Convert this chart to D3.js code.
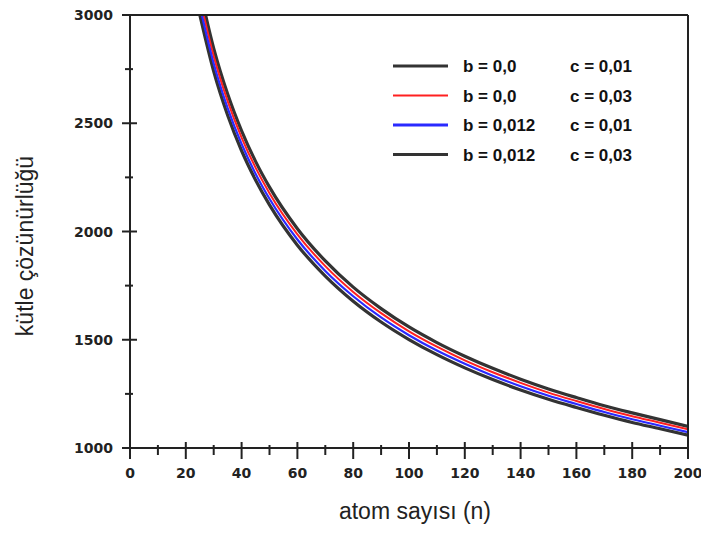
<!DOCTYPE html>
<html>
<head>
<meta charset="utf-8">
<script src="https://cdn.jsdelivr.net/npm/d3@7"></script>
<style>
  body { margin: 0; background: #fff; }
  svg { display: block; }
</style>
</head>
<body>
<div id="chart"></div>
<script>
// values
const atomCounts = [25, 30, 35, 40, 45, 50, 60, 70, 80, 90, 100, 110, 120, 130, 140, 150, 160, 170, 180, 190, 200];
const b0c001 = [3118, 2846, 2635, 2465, 2324, 2205, 2013, 1864, 1743, 1644, 1559, 1487, 1424, 1368, 1318, 1273, 1233, 1195, 1162, 1131, 1100];
const b0c003 = [3078, 2810, 2602, 2434, 2295, 2177, 1987, 1840, 1721, 1623, 1539, 1468, 1405, 1350, 1301, 1256, 1217, 1180, 1147, 1117, 1086];
const b012c001 = [3042, 2776, 2570, 2404, 2267, 2151, 1963, 1818, 1701, 1603, 1521, 1450, 1389, 1334, 1285, 1241, 1203, 1166, 1133, 1103, 1073];
const b012c003 = [3002, 2740, 2537, 2373, 2238, 2123, 1937, 1794, 1678, 1582, 1501, 1431, 1370, 1316, 1268, 1225, 1187, 1151, 1118, 1089, 1059];

const legendB = ["b = 0,0", "b = 0,0", "b = 0,012", "b = 0,012"];
const legendC = ["c = 0,01", "c = 0,03", "c = 0,01", "c = 0,03"];
const xTicks = [0, 20, 40, 60, 80, 100, 120, 140, 160, 180, 200];
const yTicks = [1000, 1500, 2000, 2500, 3000];

const series = [
    { values: b0c001, color: "#333333", width: 3.2 },
    { values: b012c003, color: "#333333", width: 3.2 },
    { values: b0c003, color: "#ff2020", width: 2 },
    { values: b012c001, color: "#2a2aff", width: 2.2 }
];
const legendRows = [
    { color: "#333333", width: 3 },
    { color: "#ff2020", width: 2 },
    { color: "#2a2aff", width: 3 },
    { color: "#333333", width: 3 }
];

const W = 701, H = 534;
const svg = d3.select("#chart").append("svg")
    .attr("width", W)
    .attr("height", H);

const x = d3.scaleLinear().domain([0, 200]).range([130, 688]);
const y = d3.scaleLinear().domain([1000, 3000]).range([448, 15]);

svg.append("clipPath").attr("id", "plot")
    .append("rect")
    .attr("x", x(0)).attr("y", y(3000))
    .attr("width", x(200) - x(0)).attr("height", y(1000) - y(3000));

// curves
const line = d3.line()
    .x((d, i) => x(atomCounts[i]))
    .y(d => y(d))
    .curve(d3.curveMonotoneX);

svg.append("g").attr("clip-path", "url(#plot)")
    .selectAll("path").data(series).enter().append("path")
    .attr("d", d => line(d.values))
    .attr("fill", "none")
    .attr("stroke", d => d.color)
    .attr("stroke-width", d => d.width);

// frame
const axisColor = "#222";
svg.append("line")
    .attr("x1", x(0)).attr("x2", x(200)).attr("y1", y(3000)).attr("y2", y(3000))
    .attr("stroke", axisColor).attr("stroke-width", 2);
svg.append("line")
    .attr("x1", x(200)).attr("x2", x(200)).attr("y1", y(3000)).attr("y2", y(1000))
    .attr("stroke", axisColor).attr("stroke-width", 2);
svg.append("line")
    .attr("x1", x(0)).attr("x2", x(200)).attr("y1", y(1000)).attr("y2", y(1000))
    .attr("stroke", axisColor).attr("stroke-width", 2);
svg.append("line")
    .attr("x1", x(0)).attr("x2", x(0)).attr("y1", y(3000)).attr("y2", y(1000))
    .attr("stroke", axisColor).attr("stroke-width", 2);

// ticks crossing the axes
const xMinor = d3.range(10, 200, 20);
svg.append("g").selectAll("line").data(xTicks).enter().append("line")
    .attr("x1", d => x(d)).attr("x2", d => x(d))
    .attr("y1", y(1000) - 6).attr("y2", y(1000) + 11)
    .attr("stroke", axisColor).attr("stroke-width", 2);
svg.append("g").selectAll("line").data(xMinor).enter().append("line")
    .attr("x1", d => x(d)).attr("x2", d => x(d))
    .attr("y1", y(1000) - 3).attr("y2", y(1000) + 7)
    .attr("stroke", axisColor).attr("stroke-width", 2);

const yMinor = d3.range(1250, 3000, 500);
svg.append("g").selectAll("line").data(yTicks).enter().append("line")
    .attr("x1", x(0) - 8).attr("x2", x(0) + 7)
    .attr("y1", d => y(d)).attr("y2", d => y(d))
    .attr("stroke", axisColor).attr("stroke-width", 2);
svg.append("g").selectAll("line").data(yMinor).enter().append("line")
    .attr("x1", x(0) - 5).attr("x2", x(0) + 3)
    .attr("y1", d => y(d)).attr("y2", d => y(d))
    .attr("stroke", axisColor).attr("stroke-width", 2);

// tick labels
const tickFont = "'DejaVu Sans', sans-serif";
svg.append("g").selectAll("text").data(xTicks).enter().append("text")
    .attr("x", d => x(d)).attr("y", 478)
    .attr("text-anchor", "middle")
    .attr("font-family", tickFont).attr("font-size", 14).attr("font-weight", "bold")
    .attr("fill", "#222")
    .text(d => d);
svg.append("g").selectAll("text").data(yTicks).enter().append("text")
    .attr("x", 113).attr("y", d => y(d) + 5)
    .attr("text-anchor", "end")
    .attr("font-family", tickFont).attr("font-size", 14).attr("font-weight", "bold")
    .attr("fill", "#222")
    .text(d => d);

// axis titles
svg.append("text")
    .attr("x", 415).attr("y", 519)
    .attr("text-anchor", "middle")
    .attr("font-family", "'Liberation Sans', Arial, sans-serif").attr("font-size", 23)
    .attr("fill", "#222")
    .text("atom sayısı (n)");
svg.append("text")
    .attr("transform", "translate(33,246) rotate(-90)")
    .attr("text-anchor", "middle")
    .attr("font-family", "'Liberation Sans', Arial, sans-serif").attr("font-size", 23)
    .attr("fill", "#222")
    .text("kütle çözünürlüğü");

// legend
const legend = svg.append("g");
const rows = legend.selectAll("g").data(legendRows).enter().append("g")
    .attr("transform", (d, i) => `translate(0,${66 + i * 29.5})`);
rows.append("line")
    .attr("x1", 393).attr("x2", 448).attr("y1", 0).attr("y2", 0)
    .attr("stroke", d => d.color).attr("stroke-width", d => d.width);
rows.append("text")
    .attr("x", 463).attr("y", 6)
    .attr("font-family", "'Liberation Sans', Arial, sans-serif").attr("font-size", 17).attr("font-weight", "bold")
    .attr("fill", "#111")
    .text((d, i) => legendB[i]);
rows.append("text")
    .attr("x", 570).attr("y", 6)
    .attr("font-family", "'Liberation Sans', Arial, sans-serif").attr("font-size", 17).attr("font-weight", "bold")
    .attr("fill", "#111")
    .text((d, i) => legendC[i]);
</script>
</body>
</html>
